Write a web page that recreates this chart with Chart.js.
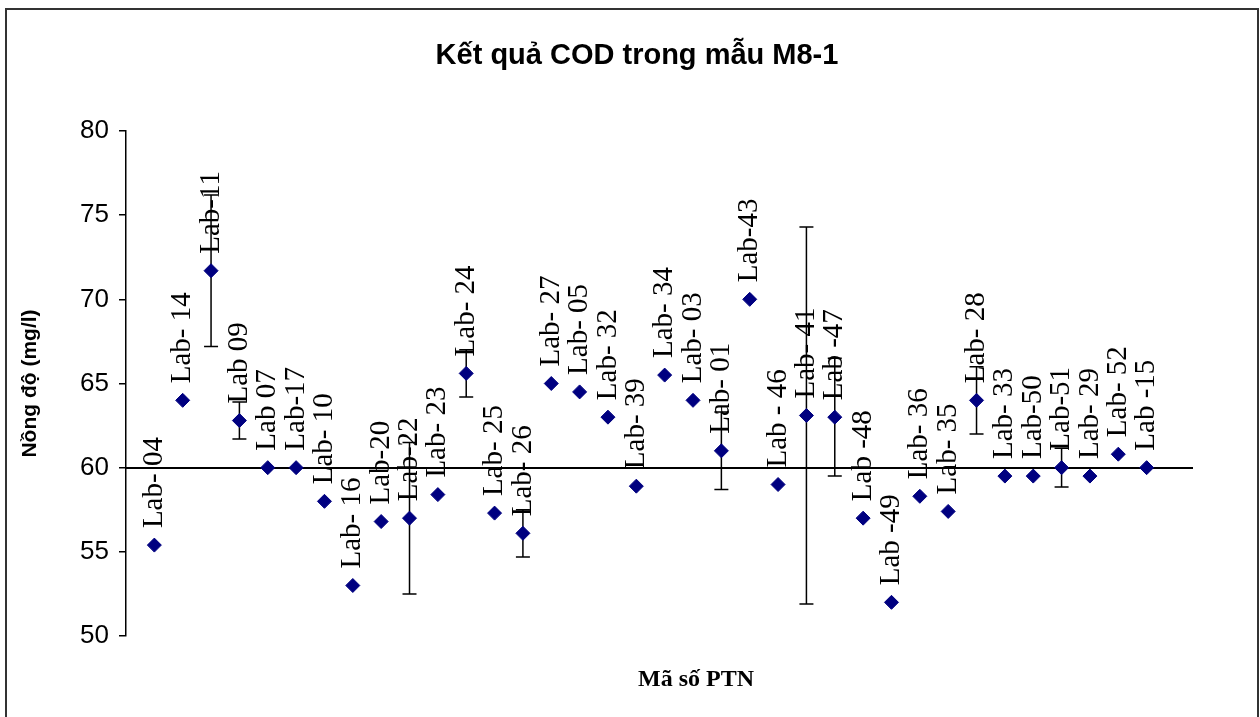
<!DOCTYPE html>
<html>
<head>
<meta charset="utf-8">
<title>Kết quả COD trong mẫu M8-1</title>
<script src="https://cdn.jsdelivr.net/npm/chart.js@4.4.1/dist/chart.umd.min.js"></script>
<style>
  html, body { margin: 0; padding: 0; background: #fff; overflow: hidden; }
  #wrap { position: relative; width: 1260px; height: 717px; }
  #frame { position: absolute; left: 5px; top: 8px; width: 1250px; height: 730px; border: 2px solid #333; pointer-events: none; }
</style>
</head>
<body>
<div id="wrap">
  <canvas id="chart" width="1260" height="717"></canvas>
  <div id="frame"></div>
</div>
<script>
// data
const labs = ['Lab- 04', 'Lab- 14', 'Lab-11', 'Lab 09', 'Lab 07', 'Lab-17', 'Lab- 10', 'Lab- 16', 'Lab-20', 'Lab-22',
  'Lab- 23', 'Lab- 24', 'Lab- 25', 'Lab- 26', 'Lab- 27', 'Lab- 05', 'Lab- 32', 'Lab- 39', 'Lab- 34', 'Lab- 03',
  'Lab- 01', 'Lab-43', 'Lab - 46', 'Lab- 41', 'Lab -47', 'Lab -48', 'Lab -49', 'Lab- 36', 'Lab- 35', 'Lab- 28',
  'Lab- 33', 'Lab-50', 'Lab-51', 'Lab- 29', 'Lab- 52', 'Lab -15'];
const codValues = [55.4, 64.0, 71.7, 62.8, 60.0, 60.0, 58.0, 53.0, 56.8, 57.0,
  58.4, 65.6, 57.3, 56.1, 65.0, 64.5, 63.0, 58.9, 65.5, 64.0,
  61.0, 70.0, 59.0, 63.1, 63.0, 57.0, 52.0, 58.3, 57.4, 64.0,
  59.5, 59.5, 60.0, 59.5, 60.8, 60.0];
const codErrors = [0, 0, 4.5, 1.1, 0, 0, 0, 0, 0, 4.5,
  0, 1.4, 0, 1.4, 0, 0, 0, 0, 0, 0,
  2.3, 0, 0, 11.2, 3.5, 0, 0, 0, 0, 2.0,
  0, 0, 1.15, 0, 0, 0];
const yTicks = [50, 55, 60, 65, 70, 75, 80];
const assignedValue = 60;
const xMax = 37.6;

const positions = labs.map((_, i) => i + 1);
const points = positions.map((x, i) => ({ x: x, y: codValues[i] }));

const errorBars = {
  id: 'errorBars',
  beforeDatasetsDraw(chart) {
    const { ctx, scales: { x, y } } = chart;
    ctx.save();
    ctx.strokeStyle = '#000';
    ctx.lineWidth = 1.5;
    codValues.forEach((v, i) => {
      const e = codErrors[i];
      if (!e) return;
      const px = x.getPixelForValue(positions[i]);
      const top = y.getPixelForValue(v + e);
      const bot = y.getPixelForValue(v - e);
      ctx.beginPath();
      ctx.moveTo(px, top); ctx.lineTo(px, bot);
      ctx.moveTo(px - 7, top); ctx.lineTo(px + 7, top);
      ctx.moveTo(px - 7, bot); ctx.lineTo(px + 7, bot);
      ctx.stroke();
    });
    ctx.restore();
  }
};

const pointLabels = {
  id: 'pointLabels',
  afterDatasetsDraw(chart) {
    const { ctx } = chart;
    const meta = chart.getDatasetMeta(0);
    ctx.save();
    ctx.fillStyle = '#000';
    ctx.font = '29px "Liberation Serif", "Times New Roman", serif';
    ctx.textAlign = 'left';
    ctx.textBaseline = 'middle';
    meta.data.forEach((pt, i) => {
      ctx.save();
      ctx.translate(pt.x, pt.y - 17);
      ctx.rotate(-Math.PI / 2);
      ctx.fillText(labs[i], 0, 0);
      ctx.restore();
    });
    ctx.restore();
  }
};

// chart title and x title are placed by hand to sit where the reference has them
const titles = {
  id: 'titles',
  afterDraw(chart) {
    const { ctx } = chart;
    ctx.save();
    ctx.fillStyle = '#000';
    ctx.textAlign = 'center';
    ctx.textBaseline = 'middle';
    ctx.font = 'bold 29px "Liberation Sans", Arial, sans-serif';
    ctx.fillText('Kết quả COD trong mẫu M8-1', 637, 56);
    ctx.font = 'bold 24px "Liberation Serif", "Times New Roman", serif';
    ctx.fillText('Mã số PTN', 696, 680);
    ctx.restore();
  }
};

new Chart(document.getElementById('chart'), {
  type: 'scatter',
  data: {
    datasets: [{
      data: points,
      pointStyle: 'rectRot',
      pointRadius: 7,
      pointHoverRadius: 7,
      backgroundColor: '#000080',
      borderColor: '#000080',
      borderWidth: 1
    }]
  },
  options: {
    responsive: false,
    devicePixelRatio: 1,
    animation: false,
    events: [],
    layout: { padding: { top: 131, left: 0, right: 68, bottom: 81 } },
    plugins: {
      legend: { display: false },
      tooltip: { enabled: false },
      title: { display: false }
    },
    scales: {
      x: {
        type: 'linear',
        min: 0,
        max: xMax,
        position: { y: assignedValue },
        ticks: { display: false },
        grid: { drawOnChartArea: false, drawTicks: false },
        border: { display: true, color: '#000', width: 2 }
      },
      y: {
        min: yTicks[0],
        max: yTicks[yTicks.length - 1],
        afterFit: s => { s.width = 126; },
        afterBuildTicks: s => { s.ticks = yTicks.map(v => ({ value: v })); },
        ticks: {
          color: '#000',
          padding: 10,
          font: { family: '"Liberation Sans", Arial, sans-serif', size: 26 }
        },
        grid: { drawOnChartArea: false, drawTicks: true, tickLength: 7, color: '#000', lineWidth: 1.5 },
        border: { display: true, color: '#000', width: 1.5 },
        title: {
          display: true,
          text: 'Nồng độ (mg/l)',
          color: '#000',
          padding: { top: 18, bottom: 0 },
          font: { family: '"Liberation Sans", Arial, sans-serif', size: 21, weight: 'bold' }
        }
      }
    }
  },
  plugins: [errorBars, pointLabels, titles]
});
</script>
</body>
</html>
